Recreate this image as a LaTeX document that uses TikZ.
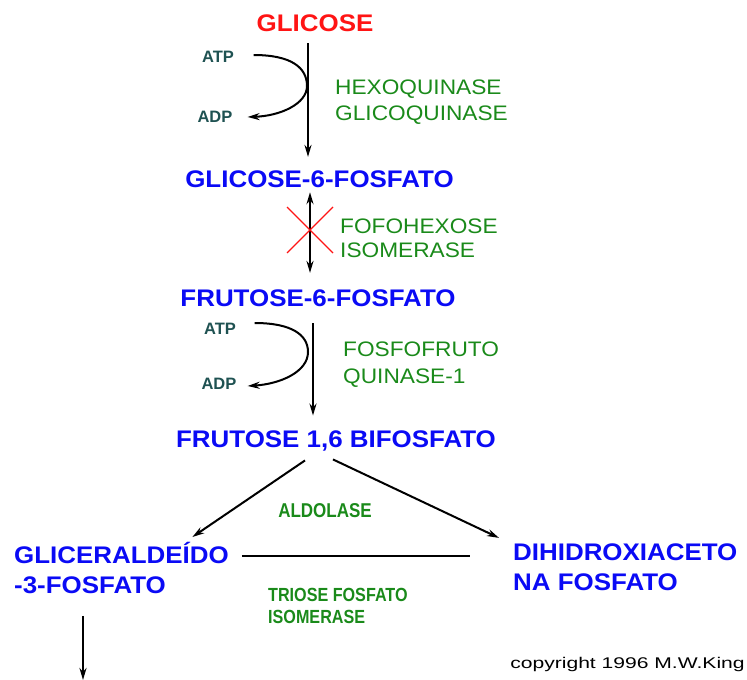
\documentclass[tikz,border=0pt]{standalone}
\usepackage{fontspec}
\setmainfont{Liberation Sans}
\newfontfamily\widefont{Liberation Sans}[FakeStretch=1.08]
\newfontfamily\narrowfont{Liberation Sans}[FakeStretch=0.85]
\newfontfamily\notefont{Liberation Sans}[FakeStretch=1.36]
\usetikzlibrary{arrows.meta,calc}
\definecolor{startcolor}{HTML}{FF1414}
\definecolor{substcolor}{HTML}{0A0AF5}
\definecolor{enzcolor}{HTML}{1A8A1A}
\definecolor{cofcolor}{HTML}{1F5252}
\tikzset{
  subst/.style={inner sep=0pt,text=substcolor,font=\widefont\bfseries\fontsize{24}{30}\selectfont},
  cofac/.style={inner sep=0pt,text=cofcolor,font=\bfseries\fontsize{16.5}{20}\selectfont},
  enzyme/.style={inner sep=0pt,text=enzcolor,align=left,anchor=west,font=\widefont\fontsize{21}{26}\selectfont},
  enzbold/.style={inner sep=0pt,text=enzcolor,font=\narrowfont\bfseries\fontsize{20}{23}\selectfont},
  rxn/.style={line width=2pt,-{Stealth[length=12pt,width=7pt]}},
  blocked/.style={startcolor,line width=1.3pt}
}

\begin{document}
\begin{tikzpicture}[x=1pt,y=-1pt]
  \useasboundingbox (0,0) rectangle (747,680);
  % substratos
  \node[subst,text=startcolor] (glc) at (315,23.5) {GLICOSE};
  \node[subst] (g6p) at (319.5,179) {GLICOSE-6-FOSFATO};
  \node[subst] (f6p) at (318,298) {FRUTOSE-6-FOSFATO};
  \node[subst] (fbp) at (336,441) {FRUTOSE 1,6 BIFOSFATO};
  \node[subst,align=left,anchor=west] (gap) at (14,568) {GLICERALDEÍDO\\-3-FOSFATO};
  \node[subst,align=left,anchor=west] (dhap) at (513,567) {DIHIDROXIACETO\\NA FOSFATO};
  % cofatores
  \node[cofac] (atp1) at (218,57) {ATP};
  \node[cofac] (adp1) at (215,117) {ADP};
  \node[cofac] (atp2) at (220,329) {ATP};
  \node[cofac] (adp2) at (219,384) {ADP};
  % enzimas
  \node[enzyme] (hk) at (335,102) {HEXOQUINASE\\GLICOQUINASE};
  \node[enzyme,font=\widefont\fontsize{21}{23.5}\selectfont] (pgi) at (340,238.5) {FOFOHEXOSE\\ISOMERASE};
  \node[enzyme,font=\widefont\fontsize{21}{27}\selectfont] (pfk) at (343,364.5) {FOSFOFRUTO\\QUINASE-1};
  \node[enzbold] (ald) at (325,511) {ALDOLASE};
  \node[enzbold,align=left,anchor=west,font=\narrowfont\bfseries\fontsize{19}{22}\selectfont] (tpi) at (268,606) {TRIOSE FOSFATO\\ISOMERASE};
  \node[inner sep=0pt,anchor=base,font=\notefont\fontsize{15.5}{18}\selectfont] (note) at (627.5,668) {copyright 1996 M.W.King};
  % reacoes
  \draw[rxn] ($(glc.south)+(-7,11)$) -- ($(g6p.north)+(-11.5,-13.4)$);
  \draw[rxn] ($(atp1.east)+(19.5,-2)$) .. controls (292,55) and (307,68) .. (307,86)
    .. controls (307,104) and (280,116) .. ($(adp1.east)+(15,0)$);
  \draw[rxn,{Stealth[length=12pt,width=7pt]}-{Stealth[length=12pt,width=7pt]}]
    ($(g6p.south)+(-9.5,4.5)$) -- ($(f6p.north)+(-8,-16.4)$);
  \coordinate (blk) at (310,230);
  \draw[blocked] ($(blk)+(-23,-23)$) -- ($(blk)+(23,23)$)
    ($(blk)+(-23,23)$) -- ($(blk)+(23,-23)$);
  \draw[rxn] ($(f6p.south)+(-5,16.4)$) -- ($(fbp.north)+(-23,-15)$);
  \draw[rxn] ($(atp2.east)+(18.5,-6)$) .. controls (292,323) and (308,335) .. (308,352)
    .. controls (308,372) and (280,384) .. ($(adp2.east)+(11,2)$);
  \draw[rxn] ($(fbp.south)+(-31,9)$) -- ($(gap.north east)+(-36.6,-5)$);
  \draw[rxn] ($(fbp.south)+(-3,8)$) -- ($(dhap.north west)+(-14,-5.4)$);
  \coordinate (isoL) at ($(gap.north east)+(13,14)$);
  \draw[line width=2pt,shorten >=43pt] (isoL) -- (isoL -| dhap.west);
  \coordinate (next) at (83,680);
  \draw[rxn] ($(gap.south west)+(69,22)$) -- (next);
\end{tikzpicture}
\end{document}
